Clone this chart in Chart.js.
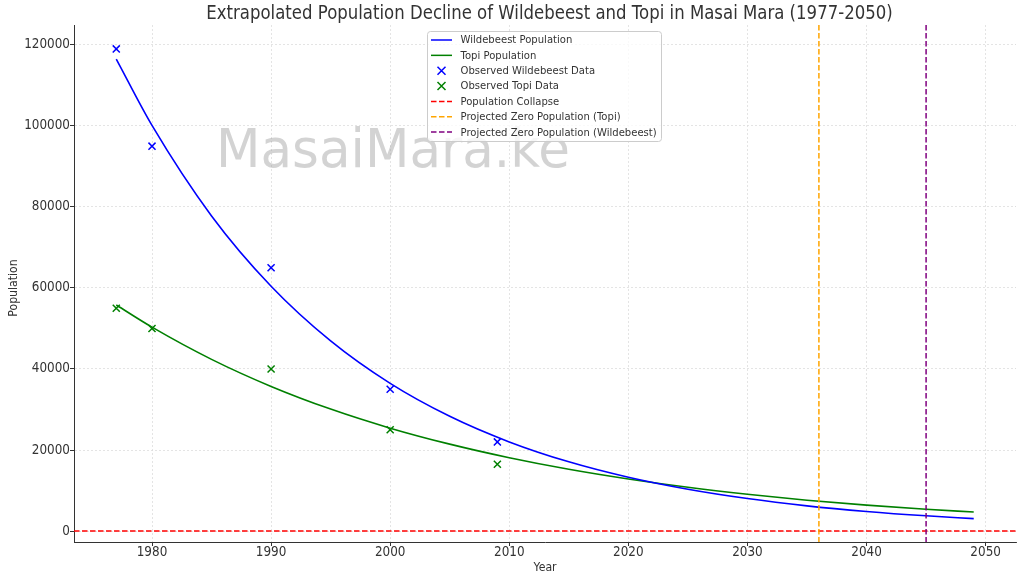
<!DOCTYPE html>
<html><head><meta charset="utf-8">
<script src="https://cdn.jsdelivr.net/npm/chart.js@4/dist/chart.umd.min.js"></script>
<style>html,body{margin:0;padding:0;background:#fff}</style>
</head><body>
<canvas id="c" width="1024" height="582"></canvas>
<script>
// ---- data ----
const curveYears = [1977, 1980, 1985, 1990, 1995, 2000, 2005, 2010, 2015, 2020, 2025, 2030, 2035, 2040, 2045, 2049];
const wildebeestFit = [116500, 100120, 77780, 60430, 46940, 36460, 28330, 22010, 17090, 13280, 10320, 8020, 6225, 4840, 3760, 3070];
const topiFit = [55800, 50330, 42380, 35700, 30100, 25400, 21450, 18100, 15250, 12850, 10800, 9080, 7620, 6400, 5390, 4690];
const obsYears = [1977, 1980, 1990, 2000, 2009];
const wildebeestObs = [119000, 95000, 65000, 35000, 22000];
const topiObs = [55000, 50000, 40000, 25000, 16500];
const collapseLevel = 0;
const zeroYearTopi = 2036;
const zeroYearWildebeest = 2045;
const xTicks = [1980, 1990, 2000, 2010, 2020, 2030, 2040, 2050];
const yTicks = [0, 20000, 40000, 60000, 80000, 100000, 120000];
const xRange = [1973.45, 2052.55];
const yRange = [-2700, 124900];

const titleText = 'Extrapolated Population Decline of Wildebeest and Topi in Masai Mara (1977-2050)';
const xTitle = 'Year';
const yTitle = 'Population';
const watermark = 'MasaiMara.ke';
const legendItems = [
  {label: 'Wildebeest Population', kind: 'line', color: '#0000ff'},
  {label: 'Topi Population', kind: 'line', color: '#008000'},
  {label: 'Observed Wildebeest Data', kind: 'marker', color: '#0000ff'},
  {label: 'Observed Topi Data', kind: 'marker', color: '#008000'},
  {label: 'Population Collapse', kind: 'dash', color: '#ff0000'},
  {label: 'Projected Zero Population (Topi)', kind: 'dash', color: '#ffa500'},
  {label: 'Projected Zero Population (Wildebeest)', kind: 'dash', color: '#800080'}
];

const FONT = "'DejaVu Sans', sans-serif";
const TXT = '#333333';
const DASH = [5.5, 2.5];
const SX = 0.89; // horizontal squeeze of the reference's text

function pts(xs, ys) { return xs.map((x, i) => ({x: x, y: ys[i]})); }

function txt(ctx, s, x, y, size, align, sx, rot) {
  ctx.save();
  ctx.translate(x, y);
  if (rot) ctx.rotate(rot);
  ctx.scale(sx, 1);
  ctx.font = size + 'px ' + FONT;
  ctx.textAlign = align;
  ctx.textBaseline = 'middle';
  ctx.fillText(s, 0, 0);
  ctx.restore();
}

const extras = {
  id: 'extras',
  beforeDatasetsDraw(chart) {
    const ctx = chart.ctx;
    ctx.save();
    ctx.translate(216, 167);
    ctx.scale(0.955, 1);
    ctx.font = '54px ' + FONT;
    ctx.fillStyle = 'rgba(150,150,150,0.42)';
    ctx.textBaseline = 'alphabetic';
    ctx.textAlign = 'left';
    ctx.fillText(watermark, 0, 0);
    ctx.restore();
  },
  afterDatasetsDraw(chart) {
    const ctx = chart.ctx, a = chart.chartArea;
    const xs = chart.scales.x, ys = chart.scales.y;
    ctx.save();
    ctx.lineWidth = 1.5;
    ctx.setLineDash(DASH);
    const y0 = ys.getPixelForValue(collapseLevel);
    ctx.strokeStyle = '#ff0000';
    ctx.beginPath(); ctx.moveTo(a.left, y0); ctx.lineTo(a.right, y0); ctx.stroke();
    [[zeroYearTopi, '#ffa500'], [zeroYearWildebeest, '#800080']].forEach(([v, c]) => {
      const px = xs.getPixelForValue(v);
      ctx.strokeStyle = c;
      ctx.beginPath(); ctx.moveTo(px, a.top); ctx.lineTo(px, a.bottom); ctx.stroke();
    });
    ctx.restore();
  },
  afterDraw(chart) {
    const ctx = chart.ctx, a = chart.chartArea;
    const xs = chart.scales.x, ys = chart.scales.y;
    ctx.save();
    ctx.fillStyle = TXT;
    // tick labels
    xTicks.forEach(v => txt(ctx, String(v), xs.getPixelForValue(v), 552, 13.5, 'center', SX));
    yTicks.forEach(v => txt(ctx, String(v), 70, ys.getPixelForValue(v), 13.5, 'right', SX));
    // title
    txt(ctx, titleText, 549.5, 14, 18.6, 'center', SX);
    // axis titles
    txt(ctx, xTitle, (a.left + a.right) / 2, 567.5, 12.3, 'center', SX);
    txt(ctx, yTitle, 14, 288, 12.3, 'center', SX, -Math.PI / 2);
    // legend
    const bx = 427.5, by = 31.5, bw = 234, bh = 110;
    ctx.fillStyle = 'rgba(255,255,255,0.8)';
    ctx.strokeStyle = '#cccccc';
    ctx.lineWidth = 1;
    ctx.beginPath();
    if (ctx.roundRect) ctx.roundRect(bx, by, bw, bh, 3); else ctx.rect(bx, by, bw, bh);
    ctx.fill(); ctx.stroke();
    legendItems.forEach((it, i) => {
      const cy = 40 + i * 15.35;
      ctx.strokeStyle = it.color;
      ctx.lineWidth = 1.5;
      if (it.kind === 'line' || it.kind === 'dash') {
        ctx.setLineDash(it.kind === 'dash' ? DASH : []);
        ctx.beginPath(); ctx.moveTo(431, cy); ctx.lineTo(452, cy); ctx.stroke();
        ctx.setLineDash([]);
      } else {
        const cx = 441.5, r = 4;
        ctx.beginPath();
        ctx.moveTo(cx - r, cy - r); ctx.lineTo(cx + r, cy + r);
        ctx.moveTo(cx - r, cy + r); ctx.lineTo(cx + r, cy - r);
        ctx.stroke();
      }
      ctx.fillStyle = TXT;
      txt(ctx, it.label, 460.5, cy + 0.5, 11.3, 'left', SX);
    });
    ctx.restore();
  }
};

Chart.defaults.font.family = FONT;
Chart.defaults.color = TXT;

new Chart(document.getElementById('c'), {
  type: 'scatter',
  data: {
    datasets: [
      {label: 'Observed Wildebeest Data', data: pts(obsYears, wildebeestObs), pointStyle: 'crossRot',
       radius: 5, borderColor: '#0000ff', backgroundColor: '#0000ff', borderWidth: 1.5, showLine: false, order: 1},
      {label: 'Observed Topi Data', data: pts(obsYears, topiObs), pointStyle: 'crossRot',
       radius: 5, borderColor: '#008000', backgroundColor: '#008000', borderWidth: 1.5, showLine: false, order: 2},
      {label: 'Wildebeest Population', data: pts(curveYears, wildebeestFit), showLine: true, pointRadius: 0,
       borderColor: '#0000ff', borderWidth: 1.6, cubicInterpolationMode: 'monotone', fill: false, order: 3},
      {label: 'Topi Population', data: pts(curveYears, topiFit), showLine: true, pointRadius: 0,
       borderColor: '#008000', borderWidth: 1.6, cubicInterpolationMode: 'monotone', fill: false, order: 4}
    ]
  },
  options: {
    responsive: false,
    animation: false,
    devicePixelRatio: 1,
    layout: {padding: {top: 25, right: 8, left: 0, bottom: 0}},
    plugins: {legend: {display: false}, tooltip: {enabled: false}, title: {display: false}},
    scales: {
      x: {
        type: 'linear', min: xRange[0], max: xRange[1],
        afterBuildTicks: s => { s.ticks = xTicks.map(v => ({value: v})); },
        afterFit: s => { s.height = 40; },
        ticks: {display: false},
        grid: {color: '#dddddd', lineWidth: 0.8, tickColor: '#333333', tickLength: 4, tickWidth: 1},
        border: {display: true, color: '#333333', width: 1, dash: [2, 2]}
      },
      y: {
        type: 'linear', min: yRange[0], max: yRange[1],
        afterBuildTicks: s => { s.ticks = yTicks.map(v => ({value: v})); },
        afterFit: s => { s.width = 74; },
        ticks: {display: false},
        grid: {color: '#dddddd', lineWidth: 0.8, tickColor: '#333333', tickLength: 4, tickWidth: 1},
        border: {display: true, color: '#333333', width: 1, dash: [2, 2]}
      }
    }
  },
  plugins: [extras]
});
</script>
</body></html>
